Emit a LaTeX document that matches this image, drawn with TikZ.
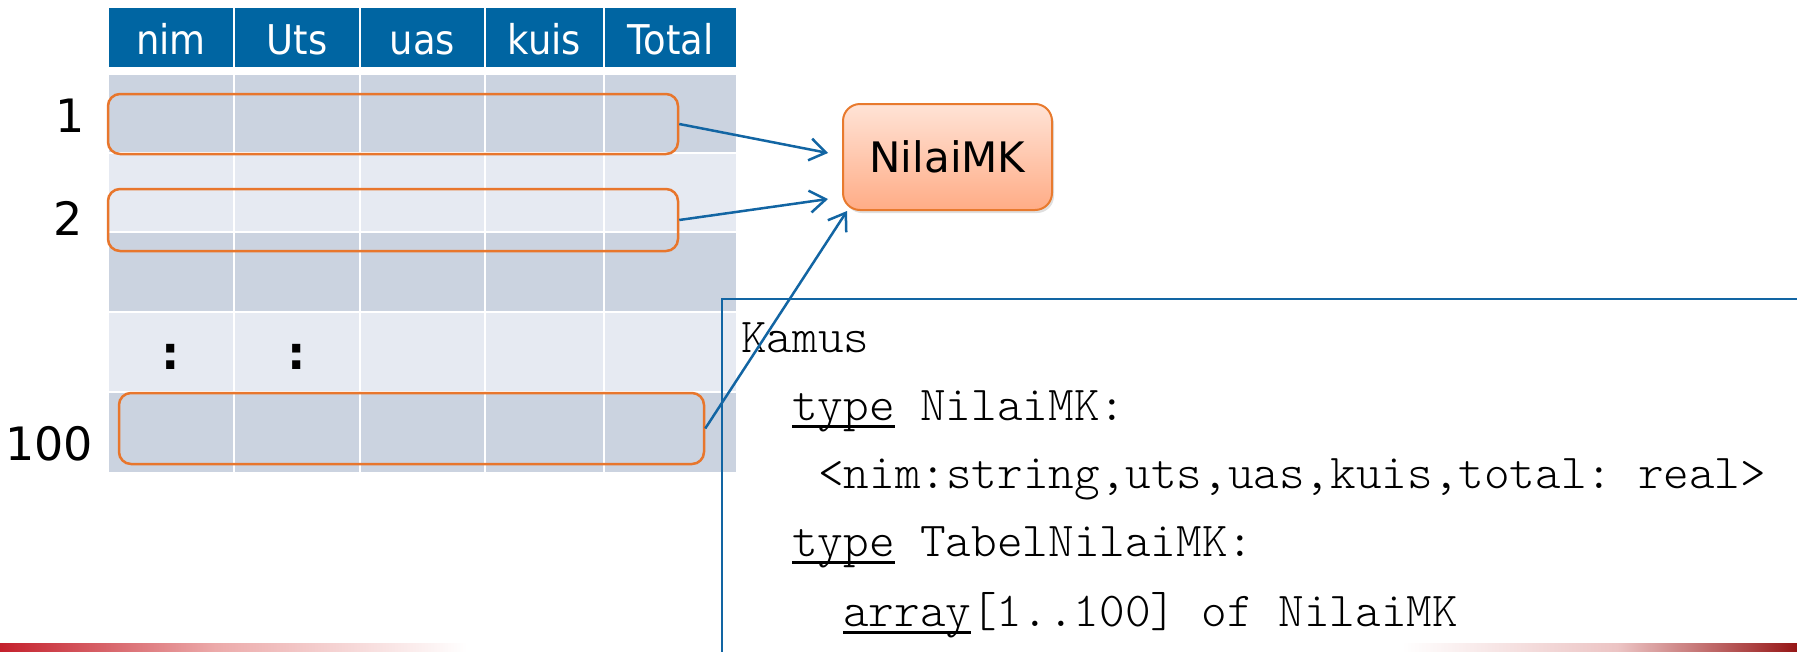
\documentclass[tikz,border=0pt]{standalone}
\usepackage{fontspec}
\setmainfont{DejaVu Sans}
\newfontfamily\hdrfont[FakeStretch=0.9]{DejaVu Sans}
\newfontfamily\lblfont{DejaVu Sans}
\newfontfamily\codefont{Latin Modern Mono Light}
\usetikzlibrary{arrows.meta,shadows}
\definecolor{hdrblue}{RGB}{0,101,162}
\definecolor{rowdark}{RGB}{203,211,224}
\definecolor{rowlight}{RGB}{230,234,242}
\definecolor{selorange}{RGB}{232,118,44}
\definecolor{linkblue}{RGB}{18,101,163}
\definecolor{mktop}{RGB}{255,227,214}
\definecolor{mkbot}{RGB}{255,172,134}
\definecolor{mkline}{RGB}{232,122,46}
\definecolor{swA}{RGB}{196,32,44}
\definecolor{swB}{RGB}{236,170,170}
\definecolor{swC}{RGB}{236,196,196}
\definecolor{swD}{RGB}{150,22,22}
\pgfdeclarehorizontalshading{swoosh}{100bp}{color(0bp)=(swA); color(25bp)=(swA); color(31bp)=(swB); color(38bp)=(white); color(64bp)=(white); color(70bp)=(swC); color(75bp)=(swD); color(100bp)=(swD)}
\newcommand\kwul[1]{\setbox0\hbox{#1}\rlap{\rule[-8pt]{\wd0}{3pt}}\box0\relax}
\frenchspacing
\tikzset{
  hdrtext/.style={text=white, font=\hdrfont\fontsize{41}{41}\selectfont, inner sep=0, anchor=base},
  rowlabel/.style={font=\lblfont\fontsize{46}{46}\selectfont, inner sep=0, anchor=base west},
  dotmark/.style={font=\bfseries\fontsize{46}{46}\selectfont, inner sep=0},
  selbox/.style={draw=selorange, line width=2.5pt, rounded corners=12pt, inner sep=0},
  mkbox/.style={draw=mkline, line width=2pt, rounded corners=17pt, top color=mktop, bottom color=mkbot,
     minimum width=209pt, minimum height=106pt, inner sep=0, font=\fontsize{42}{42}\selectfont,
     drop shadow={shadow xshift=2pt, shadow yshift=-3pt, opacity=0.25}},
  link/.style={draw=linkblue, line width=2.5pt, -{Straight Barb[length=16pt,width=22pt]}},
  codeline/.style={font=\codefont\fontsize{48.8}{48.8}\selectfont, inner sep=0, anchor=base west},
  codeframe/.style={draw=linkblue, line width=2pt},
}
\begin{document}
\begin{tikzpicture}[x=1pt,y=-1pt]
\useasboundingbox (0,0) rectangle (1797,651);
\clip (0,0) rectangle (1797,651);
\fill[white] (0,0) rectangle (1797,651);
% bottom swoosh
\shade[shading=swoosh] (0,643) rectangle (1797,651);
% table
\foreach \xa/\xb in {109/233,235/359,361/484,486/603,605/736}{
  \fill[hdrblue] (\xa,8) rectangle (\xb,67);
  \foreach \ya/\yb/\c in {75/152/rowdark,154/231/rowlight,233/311/rowdark,313/391/rowlight,393/472/rowdark}{
    \fill[\c] (\xa,\ya) rectangle (\xb,\yb);
  }
}
\node[hdrtext] (h1) at (171,54) {nim};
\node[hdrtext] (h2) at (297,54) {Uts};
\node[hdrtext] (h3) at (422.5,54) {uas};
\node[hdrtext] (h4) at (544.5,54) {kuis};
\node[hdrtext] (h5) at (670.5,54) {Total};
% row labels
\node[rowlabel] (l1) at (55,132) {1};
\node[rowlabel] (l2) at (53,235) {2};
\node[rowlabel] (l3) at (5,460) {100};
\node[dotmark] (d1) at (171,357) {:};
\node[dotmark] (d2) at (297,357) {:};
% selection boxes
\node[selbox, minimum width=570pt, minimum height=60pt] (r1) at (393,124) {};
\node[selbox, minimum width=570pt, minimum height=62pt] (r2) at (393,220) {};
\node[selbox, minimum width=585pt, minimum height=71pt] (r3) at (411.5,428.5) {};
% NilaiMK
\node[mkbox] (nk) at (947.5,157) {NilaiMK};
% code frame
\draw[codeframe] (1820,299) -- (722,299) -- (722,670);
\node[codeline] (k0) at (741,352) {Kamus};
\node[codeline] (k1) at (792,420) {\kwul{type} NilaiMK:};
\node[codeline] (k2) at (818,488) {<nim:string,uts,uas,kuis,total: real>};
\node[codeline] (k3) at (792,556) {\kwul{type} TabelNilaiMK:};
\node[codeline] (k4) at (843,626) {\kwul{array}[1..100] of NilaiMK};
% arrows
\coordinate (t1) at (828,153);
\coordinate (t2) at (828,199);
\coordinate (t3) at (847,211);
\draw[link] (r1.east) -- (t1);
\draw[link] (r2.east) -- (t2);
\draw[link] (r3.east) -- (t3);
\end{tikzpicture}
\end{document}
